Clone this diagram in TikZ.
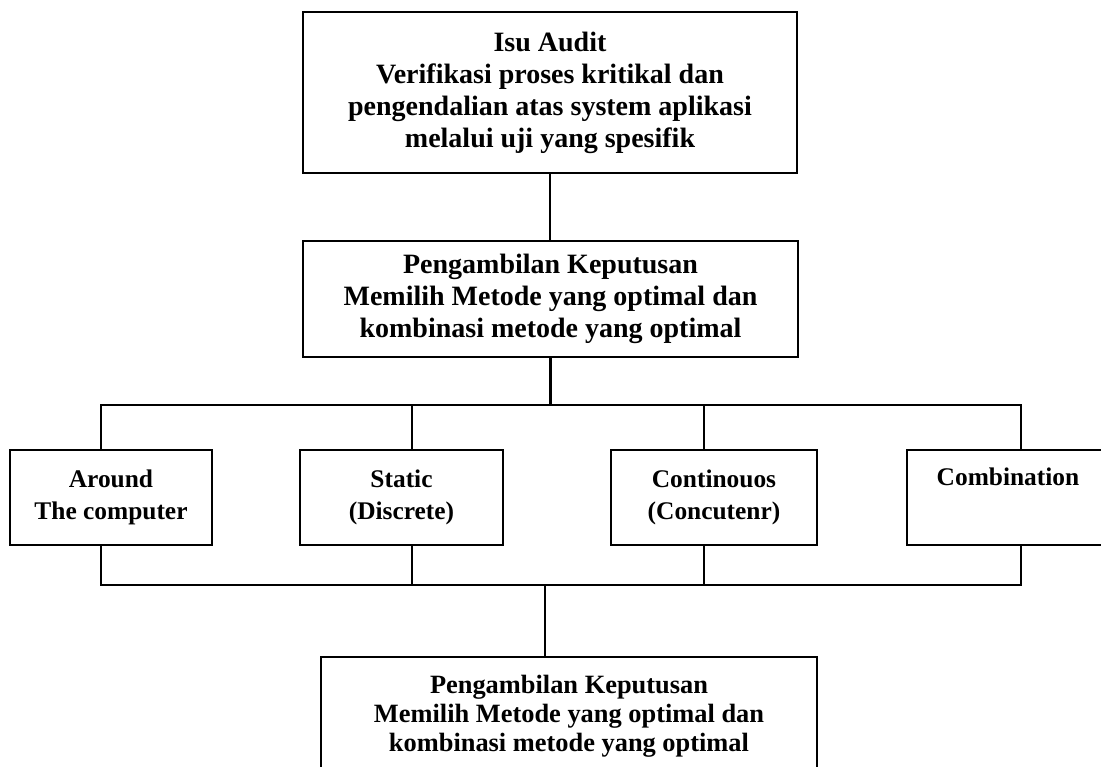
\documentclass[tikz,border=0pt]{standalone}
\usepackage{fontspec}
\setmainfont{Liberation Serif}

\begin{document}
\begin{tikzpicture}[
  x=0.5pt, y=-0.5pt, line width=1.2pt,
  box/.style = {draw, align=center, inner sep=0pt},
  toptext/.style = {font=\fontsize{14}{16}\selectfont\bfseries},
  methtext/.style = {font=\fontsize{12.7}{16}\selectfont\bfseries},
  lowtext/.style = {font=\fontsize{13.2}{14.6}\selectfont\bfseries}
  ]
  \useasboundingbox (0,0) rectangle (1101,766);
  \clip (0,0) rectangle (1101,766);

    % Audit issue and decision
  \node[box, toptext, minimum width=247pt, minimum height=80.5pt] (audit) at (550,92.5) {
    Isu Audit\\
    Verifikasi proses kritikal dan\\
    pengendalian atas system aplikasi\\
    melalui uji yang spesifik
  };
  \node[box, toptext, minimum width=247.5pt, minimum height=58pt] (decide) at (550.5,299) {
    Pengambilan Keputusan\\
    Memilih Metode yang optimal dan\\
    kombinasi metode yang optimal
  };

    % Methods
  \node[box, methtext, minimum width=101pt, minimum height=47.5pt] (around) at (111,497.5) {Around\\ The computer};
  \node[box, methtext, minimum width=101.5pt, minimum height=47.5pt] (static) at (401.5,497.5) {Static\\ (Discrete)};
  \node[box, methtext, minimum width=103pt, minimum height=47.5pt] (contin) at (714,497.5) {Continouos\\ (Concutenr)};
  \node[box, methtext, minimum width=101pt, minimum height=47.5pt] (combi) at (1008,497.5) {Combination\\ \strut};

    % Final decision
  \node[box, lowtext, minimum width=248pt, minimum height=59pt] (choice) at (569,716) {
    Pengambilan Keputusan\\
    Memilih Metode yang optimal dan\\
    kombinasi metode yang optimal
  };

    % Bus lines
  \coordinate (u1) at (101,405);
  \coordinate (u2) at (412,405);
  \coordinate (u3) at (704,405);
  \coordinate (u4) at (1021,405);
  \coordinate (d1) at (101,585);
  \coordinate (d2) at (412,585);
  \coordinate (d3) at (704,585);
  \coordinate (d4) at (1021,585);
  \coordinate (dm) at (545,585);

  \draw (audit.south) -- (audit.south |- decide.north);
  \draw (decide.south) -- (decide.south |- u1);
  \draw (u1 |- around.north) -- (u1) -- (u4) -- (u4 |- combi.north);
  \draw (u1 |- around.south) -- (d1) -- (d4) -- (u4 |- combi.south);
  \foreach \i/\n in {2/static, 3/contin} {
    \draw (u\i) -- (u\i |- \n.north);
    \draw (d\i |- \n.south) -- (d\i);
  }
  \draw (dm) -- (dm |- choice.north);

\end{tikzpicture}
\end{document}
